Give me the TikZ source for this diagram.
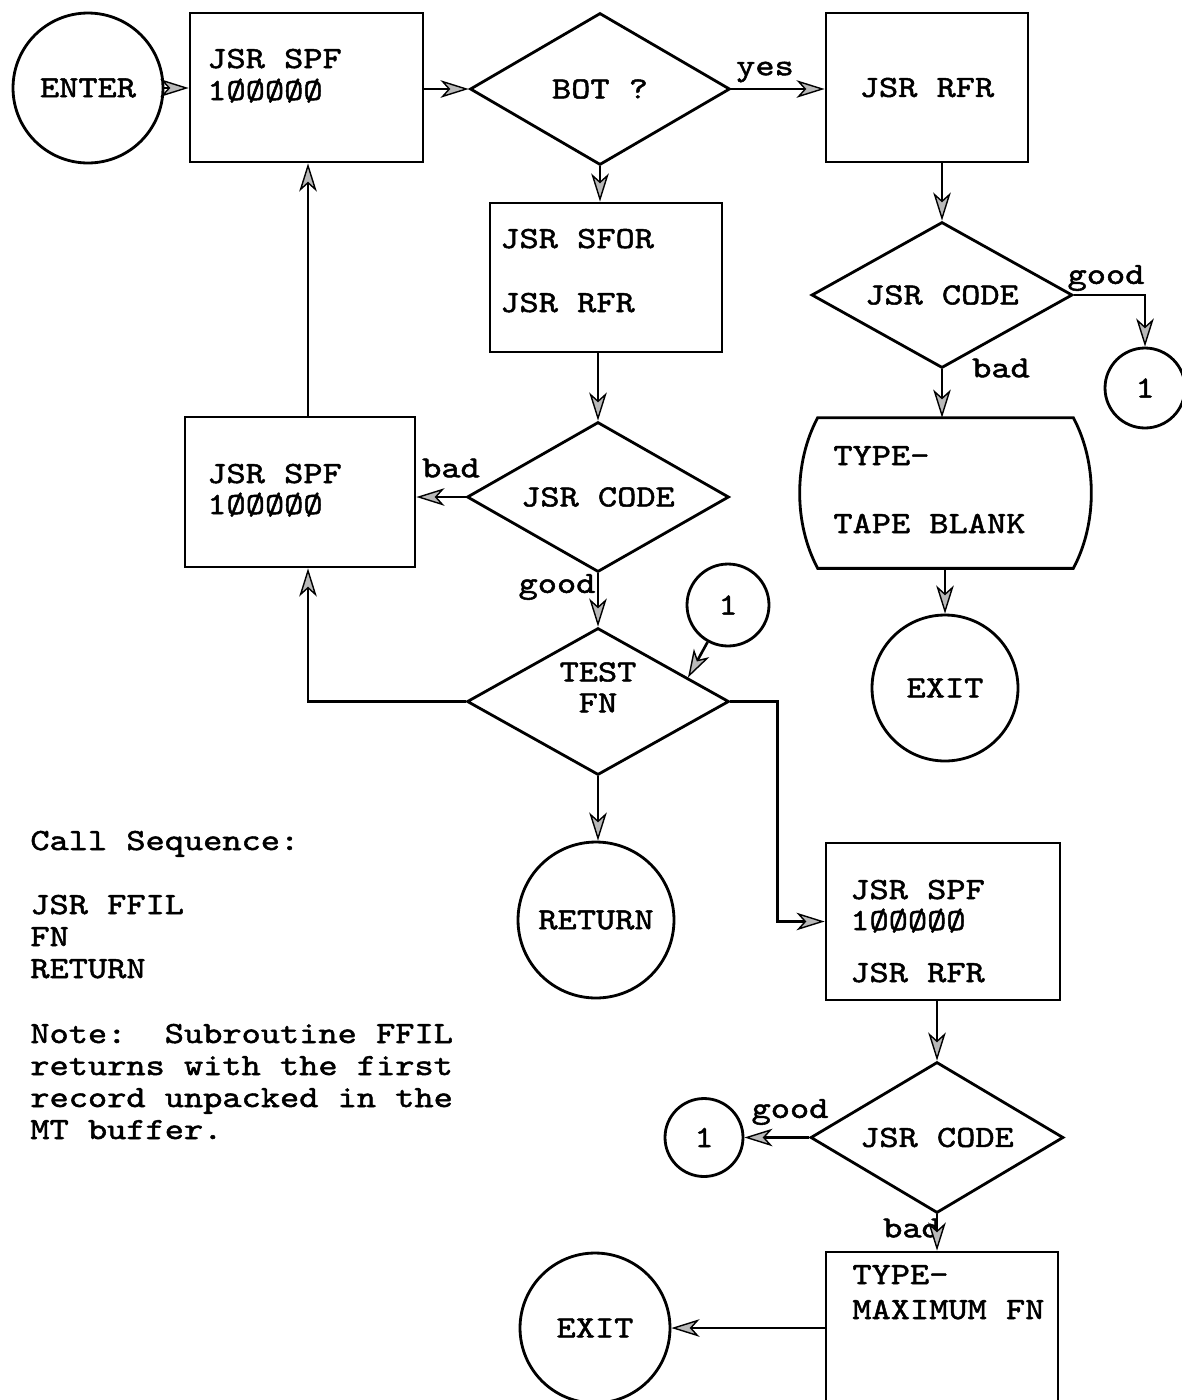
\documentclass[tikz,border=0pt]{standalone}
\usepackage{fontspec}
\setmonofont{lmmono10-regular.otf}[FakeBold=1.6, FakeStretch=1.19]
\usetikzlibrary{arrows.meta,shapes.geometric,calc}
\newcommand\tfs{\ttfamily\fontsize{17.5}{18.1}\selectfont}
\begin{document}
\begin{tikzpicture}[x=0.02cm,y=-0.02cm,
  every node/.append style={font=\tfs},
  proc/.style={draw, line width=1.6pt, rectangle, inner sep=0pt},
  dec/.style={draw, line width=1.6pt, diamond, aspect=1.7, inner sep=0pt},
  term/.style={draw, line width=1.6pt, circle, inner sep=0pt},
  txt/.style={anchor=base west, inner sep=0pt},
  lbl/.style={inner sep=0pt},
  flow/.style={line width=1.5pt, -{Stealth[length=16pt,width=10pt,inset=4.5pt,fill=gray!55,line width=0.8pt]}}
]
\useasboundingbox (0,0) rectangle (1181,1400);
\fill[white] (0,0) rectangle (1181,1400);

% top row
\node[term, minimum size=3cm] (enter) at (88,88) {ENTER};
\node[proc, minimum width=4.66cm, minimum height=2.98cm] (b1) at (306.5,87.5) {};
\node[txt] (b1a) at (207,68) {JSR SPF};
\node[txt] (b1b) at (207,100) {1ØØØØØ};
\node[dec, minimum width=5.2cm, minimum height=3.04cm] (bot) at (600,89) {BOT ?};
\node[proc, minimum width=4.04cm, minimum height=2.98cm] (rfr) at (927,87.5) {JSR RFR};

% right column
\node[dec, minimum width=5.22cm, minimum height=2.92cm] (code1) at (942,295) {JSR CODE};
\node[term, minimum size=1.6cm] (c1a) at (1145,388) {1};
\node[minimum width=5.1cm, minimum height=3cm, inner sep=0pt] (tape) at (945.5,493) {};
\draw[line width=1.6pt] (tape.north west) -- (tape.north east)
  .. controls ($(tape.north east)+(24,45)$) and ($(tape.south east)+(24,-45)$) .. (tape.south east)
  -- (tape.south west)
  .. controls ($(tape.south west)+(-24,-45)$) and ($(tape.north west)+(-24,45)$) .. (tape.north west) -- cycle;
\node[txt] (tapea) at (833,465) {TYPE-};
\node[txt] (tapeb) at (833,533) {TAPE BLANK};
\node[term, minimum size=2.92cm] (exit1) at (945,688) {EXIT};

% middle column
\node[proc, minimum width=4.64cm, minimum height=2.98cm] (sfor) at (606,277.5) {};
\node[txt] (sfora) at (500,248) {JSR SFOR};
\node[txt] (sforb) at (500,312) {JSR RFR};
\node[dec, minimum width=5.24cm, minimum height=3cm] (code2) at (598,497) {JSR CODE};
\node[proc, minimum width=4.6cm, minimum height=3cm] (b2) at (300,492) {};
\node[txt] (b2a) at (207,483) {JSR SPF};
\node[txt] (b2b) at (207,514) {1ØØØØØ};
\node[dec, minimum width=5.24cm, minimum height=2.94cm] (test) at (598,701.5) {};
\node[inner sep=0pt] (testa) at (598,672) {TEST};
\node[inner sep=0pt] (testb) at (598,703) {FN};
\node[term, minimum size=1.64cm] (c1b) at (728,605) {1};
\node[term, minimum size=3.12cm] (ret) at (596,920) {RETURN};

% lower right
\node[proc, minimum width=4.68cm, minimum height=3.14cm] (b3) at (943,921.5) {};
\node[txt] (b3a) at (850,899) {JSR SPF};
\node[txt] (b3b) at (850,930) {1ØØØØØ};
\node[txt] (b3c) at (850,982) {JSR RFR};
\node[dec, minimum width=5.06cm, minimum height=3.02cm] (code3) at (937,1137.5) {JSR CODE};
\node[term, minimum size=1.56cm] (c1c) at (704,1137.5) {1};
\node[proc, minimum width=4.64cm, minimum height=3.12cm] (b4) at (942,1330) {};
\node[txt] (b4a) at (852,1284) {TYPE-};
\node[txt] (b4b) at (852,1319) {MAXIMUM FN};
\node[term, minimum size=3cm] (exit2) at (595,1328) {EXIT};

% labels
\node[lbl] (lyes) at (765,72) {yes};
\node[lbl] (lg1) at (1106,278) {good};
\node[lbl] (lb1) at (1001,368) {bad};
\node[lbl] (lb2) at (451,468) {bad};
\node[lbl] (lg2) at (557,587) {good};
\node[lbl] (lg3) at (790,1112) {good};
\node[lbl] (lb3) at (912,1228) {bad};

% left text
\node[txt] (cs) at (30,850) {Call Sequence:};
\node[txt] (cs1) at (30,914) {JSR FFIL};
\node[txt] (cs2) at (30,946) {FN};
\node[txt] (cs3) at (30,978) {RETURN};
\node[txt] (n1) at (30,1043) {Note:\ \ Subroutine FFIL};
\node[txt] (n2) at (30,1075) {returns with the first};
\node[txt] (n3) at (30,1107) {record unpacked in the};
\node[txt] (n4) at (30,1139) {MT buffer.};

% connectors
\coordinate (b2n) at ($(b2.north)+(8,0)$);
\coordinate (b2s) at ($(b2.south)+(8,0)$);
\draw[flow] (enter.east) -- (enter.east -| b1.west);
\draw[flow] (b1.east |- bot.west) -- (bot.west);
\draw[flow] (bot.east) -- (bot.east -| rfr.west);
\draw[flow] (rfr.south -| code1.north) -- (code1.north);
\draw[flow] (code1.east) -| (c1a.north);
\draw[flow] (code1.south) -- (code1.south |- tape.north);
\draw[flow] (tape.south -| exit1.north) -- (exit1.north);
\draw[flow] (bot.south) -- (bot.south |- sfor.north);
\draw[flow] (sfor.south -| code2.north) -- (code2.north);
\draw[flow] (code2.west) -- (code2.west -| b2.east);
\draw[flow] (b2n) -- (b2n |- b1.south);
\draw[flow] (code2.south) -- (test.north);
\draw[flow] (c1b) -- ($(test.north)!0.68!(test.east)$);
\draw[flow] (test.west) -| (b2s);
\draw[flow] (test.east) -- ++(47,0) |- (b3.west);
\draw[flow] (test.south) -- (test.south |- ret.north);
\draw[flow] (b3.south -| code3.north) -- (code3.north);
\draw[flow] (code3.west) -- (c1c.east);
\draw[flow] (code3.south) -- (code3.south |- b4.north);
\draw[flow] (b4.west |- exit2.east) -- (exit2.east);
\end{tikzpicture}
\end{document}
